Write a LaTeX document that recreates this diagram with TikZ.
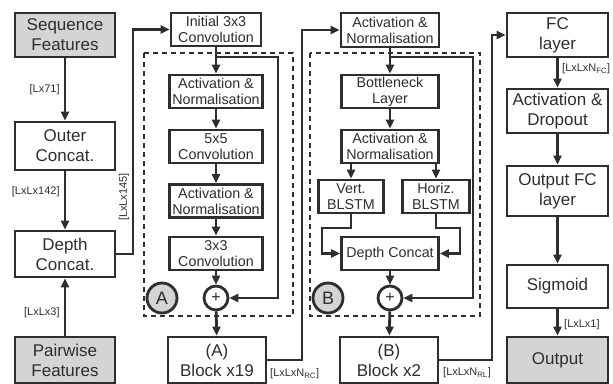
\documentclass[tikz,border=0pt]{standalone}
\usepackage{fontspec}
\setmainfont{Liberation Sans}
\usepackage{xcolor}
\usepackage{tikz}
\usetikzlibrary{arrows.meta, positioning}
\definecolor{nnline}{HTML}{2E2E2E}
\definecolor{nntext}{HTML}{2E2E2E}
\definecolor{nngray}{HTML}{D4D4D4}

\begin{document}
\begin{tikzpicture}[x=1pt, y=-1pt,
  blk/.style={draw=nnline, line width=2.8pt, fill=white, minimum width=100pt, minimum height=44pt, align=center, text=nntext, font=\fontsize{17}{20}\selectfont, inner sep=1pt},
  inp/.style={blk, fill=nngray},
  lyr/.style={draw=nnline, line width=2.8pt, fill=white, minimum width=93pt, minimum height=33pt, align=center, text=nntext, font=\fontsize{14.3}{16}\selectfont, inner sep=1pt},
  sumc/.style={circle, draw=nnline, line width=2.8pt, fill=white, minimum size=24pt, inner sep=0pt, text=nntext, font=\fontsize{16}{16}\selectfont},
  tag/.style={circle, draw=nnline, line width=2.8pt, fill=nngray, minimum size=30pt, inner sep=0pt, text=nntext, font=\fontsize{18}{18}\selectfont},
  grp/.style={draw=nnline, line width=2.3pt, dash pattern=on 5pt off 4pt},
  arr/.style={-{Triangle[length=9pt, width=8pt]}, nnline, line width=2.8pt},
  dim/.style={text=nntext, font=\fontsize{11}{12}\selectfont, inner sep=1pt}
]
  \useasboundingbox (0,0) rectangle (613,383);
  \clip (0,0) rectangle (613,383);

  % residual block groups
  \draw[grp] (144,53) rectangle (293,316);
  \draw[grp] (310,53) rectangle (480,316);

  % inputs
  \node[inp] (seq) at (65,35) {Sequence\\Features};
  \node[blk, minimum height=48pt] (outer) at (65,146) {Outer\\Concat.};
  \node[blk, minimum height=46pt] (dcat) at (65,254) {Depth\\Concat.};
  \node[inp, minimum height=46pt] (pair) at (65,360) {Pairwise\\Features};

  \draw[arr] (seq) -- node[dim, left=3pt, pos=0.5]{[Lx71]} (outer);
  \draw[arr] (outer) -- node[dim, left=3pt, pos=0.35]{[LxLx142]} (dcat);
  \draw[arr] (pair) -- node[dim, left=3pt, pos=0.4]{[LxLx3]} (dcat);

  % block A
  \node[lyr, minimum width=90pt] (init) at (216,29.5) {Initial 3x3\\Convolution};
  \node[lyr] (anA1) at (216,91.5) {Activation \&\\Normalisation};
  \node[lyr] (conv5) at (216,146.5) {5x5\\Convolution};
  \node[lyr] (anA2) at (216,201) {Activation \&\\Normalisation};
  \node[lyr] (conv3) at (216,253.5) {3x3\\Convolution};
  \node[sumc] (sumA) at (216,298) {+};
  \node[tag] (tagA) at (162,298) {A};
  \node[blk, minimum width=98pt, minimum height=46pt] (blkA) at (217,360) {(A)\\Block x19};

  \coordinate (jA) at (133,29.5);
  \draw[arr] (dcat.east) -| (jA) -- (init.west);
  \node[dim, rotate=90] (dimA) at (124,197) {[LxLx145]};

  \draw[arr] (init) -- (anA1);
  \draw[arr] (anA1) -- (conv5);
  \draw[arr] (conv5) -- (anA2);
  \draw[arr] (anA2) -- (conv3);
  \draw[arr] (conv3) -- (sumA);
  \draw[arr] (sumA) -- (blkA);
  \coordinate (splitA) at (216,57);
  \coordinate (skipA) at (278,298);
  \draw[arr] (splitA) -| (skipA) -- (sumA);

  % block B
  \node[lyr, minimum width=98pt, minimum height=34pt] (anB0) at (390,30) {Activation \&\\Normalisation};
  \node[lyr, minimum width=97pt] (bott) at (390,91.5) {Bottleneck\\Layer};
  \node[lyr, minimum width=97pt] (anB1) at (390,146.5) {Activation \&\\Normalisation};
  \node[lyr, minimum width=65pt] (vert) at (351,196.5) {Vert.\\BLSTM};
  \node[lyr, minimum width=67pt] (horiz) at (436,196.5) {Horiz.\\BLSTM};
  \node[lyr, minimum width=97pt] (dcb) at (390,253.5) {Depth Concat};
  \node[sumc] (sumB) at (390,298) {+};
  \node[tag] (tagB) at (328,298) {B};
  \node[blk, minimum width=98pt, minimum height=46pt] (blkB) at (389,360) {(B)\\Block x2};

  \coordinate (jB) at (302,30);
  \draw[arr] (blkA.east) -| (jB) -- (anB0.west);
  \node[dim, anchor=west] (dimB) at (269,374) {[LxLxN\textsubscript{RC}]};

  \draw[arr] (anB0) -- (bott);
  \draw[arr] (bott) -- (anB1);
  \draw[arr] (vert |- anB1.south) -- (vert);
  \draw[arr] (horiz |- anB1.south) -- (horiz);
  \coordinate (kV1) at (322,228);
  \coordinate (kV2) at (322,253.5);
  \draw[arr] (vert.south) |- (kV1) -- (kV2) -- (dcb.west);
  \coordinate (kH1) at (460,228);
  \coordinate (kH2) at (460,253.5);
  \draw[arr] (horiz.south) |- (kH1) -- (kH2) -- (dcb.east);
  \draw[arr] (dcb) -- (sumB);
  \draw[arr] (sumB) -- (blkB);
  \coordinate (splitB) at (390,57);
  \coordinate (skipB) at (473,298);
  \draw[arr] (splitB) -| (skipB) -- (sumB);

  % output head
  \node[blk, minimum width=101pt] (fc) at (557.5,35) {FC\\layer};
  \node[blk, minimum width=101pt] (actd) at (557.5,111) {Activation \&\\Dropout};
  \node[blk, minimum width=101pt, minimum height=50pt] (ofc) at (557.5,191) {Output FC\\layer};
  \node[blk, minimum width=101pt, minimum height=43pt] (sig) at (557.5,286.5) {Sigmoid};
  \node[inp, minimum width=101pt, minimum height=46pt] (out) at (557.5,360) {Output};

  \coordinate (jC) at (492,35);
  \draw[arr] (blkB.east) -| (jC) -- (fc.west);
  \node[dim, anchor=west] (dimC) at (442,373) {[LxLxN\textsubscript{RL}]};

  \draw[arr] (fc) -- (actd);
  \node[dim, anchor=west] (dimD) at (561,69) {[LxLxN\textsubscript{FC}]};
  \draw[arr] (actd) -- (ofc);
  \draw[arr] (ofc) -- (sig);
  \draw[arr] (sig) -- (out);
  \node[dim, anchor=west] (dimE) at (563,325) {[LxLx1]};
\end{tikzpicture}
\end{document}
